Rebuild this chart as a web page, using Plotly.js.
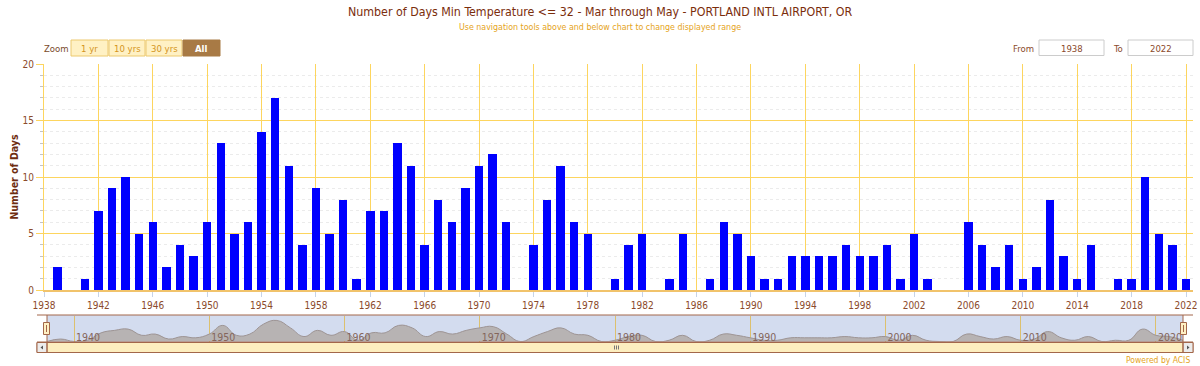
<!DOCTYPE html>
<html><head><meta charset="utf-8">
<script src="https://cdn.plot.ly/plotly-3.0.1.min.js"></script>
<style>html,body{margin:0;padding:0;background:#fff;}#chart{width:1200px;height:366px;}</style>
</head><body><div id="chart"></div>
<script>
// ---------- data ----------
const years = [1938,1939,1940,1941,1942,1943,1944,1945,1946,1947,1948,1949,1950,1951,1952,1953,1954,1955,1956,1957,
  1958,1959,1960,1961,1962,1963,1964,1965,1966,1967,1968,1969,1970,1971,1972,1973,1974,1975,1976,1977,
  1978,1979,1980,1981,1982,1983,1984,1985,1986,1987,1988,1989,1990,1991,1992,1993,1994,1995,1996,1997,
  1998,1999,2000,2001,2002,2003,2004,2005,2006,2007,2008,2009,2010,2011,2012,2013,2014,2015,2016,2017,
  2018,2019,2020,2021,2022];
const days = [0,2,0,1,7,9,10,5,6,2,4,3,6,13,5,6,14,17,11,4,
  9,5,8,1,7,7,13,11,4,8,6,9,11,12,6,0,4,8,11,6,
  5,0,1,4,5,0,1,5,0,1,6,5,3,1,1,3,3,3,3,4,
  3,3,4,1,5,1,0,0,6,4,2,4,1,2,8,3,1,4,0,1,
  1,10,5,4,1];
const xTickYears = [1938,1942,1946,1950,1954,1958,1962,1966,1970,1974,1978,1982,1986,1990,1994,1998,2002,2006,2010,2014,2018,2022];
const navTickYears = [1940,1950,1960,1970,1980,1990,2000,2010,2020];
const zoomLabels = ['1 yr','10 yrs','30 yrs','All'];
const fromYear = '1938', toYear = '2022';
const titleText = 'Number of Days Min Temperature &lt;= 32 - Mar through May - PORTLAND INTL AIRPORT, OR';
const subtitleText = 'Use navigation tools above and below chart to change displayed range';
const yTitle = 'Number of Days';
const creditText = 'Powered by ACIS';

// ---------- helpers ----------
const W = 1200, H = 366;
const FONT = '"DejaVu Sans Condensed","DejaVu Sans",sans-serif';
const px = x => x / W;
const py = y => 1 - y / H;
const BROWN = '#a3674a', GOLD = '#fdd55e', TXT = '#8b4a2b';

const shapes = [], annotations = [];
function rect(x0, y0, x1, y1, fill, line, lw, layer) {
  shapes.push({type:'rect', xref:'paper', yref:'paper', x0:px(x0), x1:px(x1), y0:py(y1), y1:py(y0),
    fillcolor:fill, line:{color:line||'rgba(0,0,0,0)', width:lw===undefined?1:lw}, layer:layer||'above'});
}
function hline(x0, x1, y, color, w) {
  shapes.push({type:'line', xref:'paper', yref:'paper', x0:px(x0), x1:px(x1), y0:py(y), y1:py(y), line:{color, width:w||1}});
}
function vline(x, y0, y1, color, w) {
  shapes.push({type:'line', xref:'paper', yref:'paper', x0:px(x), x1:px(x), y0:py(y0), y1:py(y1), line:{color, width:w||1}});
}
function tri(pts, color) {
  const d = pts.map((p,i)=>(i?'L':'M')+px(p[0]).toFixed(5)+','+py(p[1]).toFixed(5)).join(' ')+' Z';
  shapes.push({type:'path', xref:'paper', yref:'paper', path:d, fillcolor:color, line:{width:0}});
}
function text(t, x, y, size, color, anchor, extra) {
  annotations.push(Object.assign({text:t, xref:'paper', yref:'paper', x:px(x), y:py(y), xanchor:anchor||'center', yanchor:'middle',
    showarrow:false, font:{family:FONT, size, color}}, extra||{}));
}

// ---------- header ----------
text(titleText, 600, 12, 12.3, '#7b2d0b');
text(subtitleText, 600, 27, 8.8, '#e5a31a');
text('Zoom', 56, 48, 9.5, '#7a4a2a');
const btnX = [[71,108],[109,145],[146,182],[183,220]];
zoomLabels.forEach((lab,i)=>{
  const active = i === zoomLabels.length-1;
  rect(btnX[i][0], 40, btnX[i][1], 56, active ? '#a87a45' : '#fff1c4', active ? '#a87a45' : '#ecc96e', 1);
  text(active ? '<b>'+lab+'</b>' : lab, (btnX[i][0]+btnX[i][1])/2, 48, 9.5, active ? '#ffffff' : '#d4951c');
});
text('From', 1023, 48, 9.5, '#8b4a2b');
rect(1039, 40, 1104, 55.5, '#ffffff', '#cccccc', 1);
text(fromYear, 1071.5, 48, 9.5, '#8b4a2b');
text('To', 1118, 48, 9.5, '#8b4a2b');
rect(1128, 40, 1193, 55.5, '#ffffff', '#cccccc', 1);
text(toYear, 1160.5, 48, 9.5, '#8b4a2b');

// ---------- navigator frame ----------
rect(47, 315, 1183, 342, '#d3dcef', null, 0, 'below');
rect(37, 342.5, 1193, 352.5, '#fdeebf', BROWN, 1);
rect(37, 342.5, 47, 352.5, '#ececec', BROWN, 1);
rect(1183, 342.5, 1193, 352.5, '#ececec', BROWN, 1);
tri([[40.5,347.5],[43,345.5],[43,349.5]], '#555');
tri([[1189.5,347.5],[1187,345.5],[1187,349.5]], '#555');
[614.5,616.5,618.5].forEach(x=>vline(x, 345.5, 349.5, '#777', 1));
hline(37, 1193, 315, BROWN, 1);
hline(37, 1193, 342, BROWN, 1);
vline(47, 315, 352.5, BROWN, 1);
vline(1183, 315, 352.5, BROWN, 1);
rect(43.5, 322.5, 49.5, 334.5, '#fff0c4', BROWN, 1);
vline(46.5, 325, 332, BROWN, 1);
rect(1180.5, 322.5, 1186.5, 334.5, '#fff0c4', BROWN, 1);
vline(1183.5, 325, 332, BROWN, 1);
text(creditText, 1192, 360, 8.5, '#e5a31a', 'right');

// ---------- traces ----------
const bars = {
  type:'bar', x:years, y:days, width:0.62, xaxis:'x', yaxis:'y',
  marker:{color:'#0000ff', line:{width:0}},
  hoverinfo:'x+y', showlegend:false
};
const nav = {
  type:'scatter', mode:'lines', x:years, y:days, xaxis:'x2', yaxis:'y2',
  line:{color:'#9d9494', width:1, shape:'spline', smoothing:1.3},
  fill:'tozeroy', fillcolor:'#b7b3b3', hoverinfo:'skip', showlegend:false
};

const layout = {
  width:W, height:H, margin:{l:0,r:0,t:0,b:0}, paper_bgcolor:'#ffffff', plot_bgcolor:'rgba(0,0,0,0)',
  font:{family:FONT, size:10, color:TXT}, bargap:0, showlegend:false,
  xaxis:{domain:[px(44), px(1193)], range:[1938, 2022.515], anchor:'y',
    tickvals:xTickYears, ticktext:xTickYears.map(String), showgrid:true, gridcolor:GOLD, gridwidth:1,
    ticks:'outside', ticklen:5, tickcolor:'#c7d3e6', showline:true, linecolor:'#f1c36b', linewidth:2,
    zeroline:false, tickfont:{family:FONT, size:10, color:TXT}, fixedrange:true},
  yaxis:{domain:[py(290), py(64)], range:[0,20], anchor:'x', dtick:5, tick0:0,
    showgrid:true, gridcolor:GOLD, gridwidth:1, ticks:'outside', ticklen:7, tickcolor:GOLD,
    showline:true, linecolor:GOLD, linewidth:1, zeroline:false,
    minor:{dtick:1, ticks:'outside', ticklen:3, tickcolor:'#c4c4c4', showgrid:true, gridcolor:'#ebebeb', griddash:'dot', gridwidth:1},
    tickfont:{family:FONT, size:10, color:TXT},
    title:{text:'<b>'+yTitle+'</b>', font:{family:FONT, size:10.5, color:'#6e2d12'}, standoff:1}, fixedrange:true},
  xaxis2:{domain:[px(47), px(1183)], range:[1938, 2022], anchor:'y2',
    tickvals:navTickYears, ticktext:navTickYears.map(String), ticklabelposition:'inside right',
    ticklabelstandoff:-8, ticklabelshift:2,
    showgrid:true, gridcolor:'#dcc06e', gridwidth:1, ticks:'', showline:false, zeroline:false,
    tickfont:{family:FONT, size:10.5, color:'#84655a'}, fixedrange:true},
  yaxis2:{domain:[py(341.5), py(315.5)], range:[0,21], anchor:'x2', showgrid:false, showticklabels:false,
    zeroline:false, showline:false, ticks:'', fixedrange:true},
  shapes, annotations
};

Plotly.newPlot('chart', [nav, bars], layout, {displayModeBar:false, staticPlot:true});
</script>
</body></html>
